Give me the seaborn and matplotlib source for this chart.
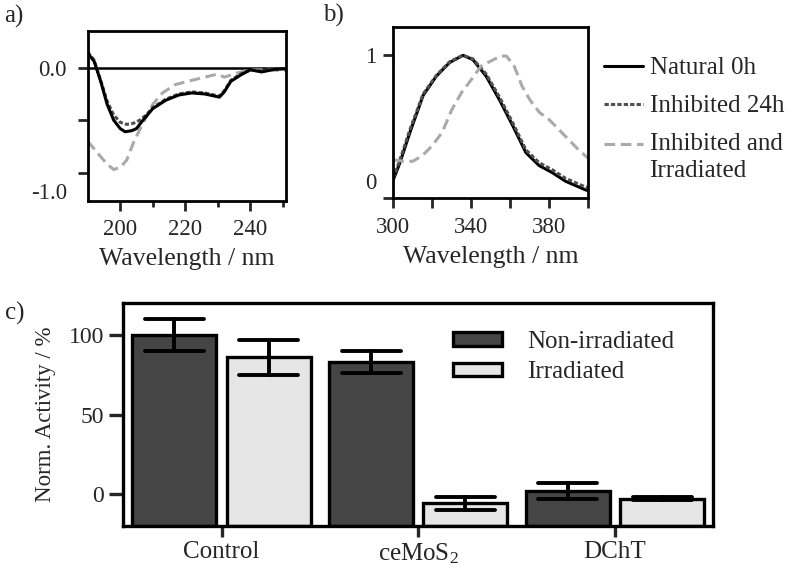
import numpy as np
import pandas as pd
import matplotlib
matplotlib.use("Agg")
import matplotlib.pyplot as plt
import matplotlib.transforms as mtransforms
from matplotlib.legend_handler import HandlerLine2D
import seaborn as sns

# ---------------- data ----------------
# panel a: CD spectra
a_wl_nat = [190, 192, 194, 196, 198, 200, 201.5, 203.5, 205, 207, 210, 214, 218, 222, 226, 229, 230.5, 232, 234, 237, 240, 243.5, 247.5, 251]
a_cd_nat = [0.14, 0.06, -0.13, -0.35, -0.50, -0.58, -0.61, -0.60, -0.58, -0.50, -0.39, -0.31, -0.26, -0.24, -0.25, -0.27, -0.28, -0.23, -0.13, -0.07, -0.02, -0.04, -0.015, -0.01]
a_wl_inh = [190, 192, 194, 196, 198, 200, 202, 204, 206, 208, 210, 214, 218, 222, 226, 229, 230.5, 232, 234, 237, 240, 243.5, 247.5, 251]
a_cd_inh = [0.15, 0.07, -0.12, -0.32, -0.45, -0.52, -0.54, -0.53, -0.50, -0.45, -0.38, -0.30, -0.25, -0.23, -0.24, -0.26, -0.27, -0.22, -0.12, -0.06, -0.02, -0.03, -0.01, -0.01]
a_wl_irr = [190, 193, 196, 198, 200, 202, 204, 206, 208, 210, 213, 217, 222, 226, 230, 232, 236, 240, 245, 251]
a_cd_irr = [-0.70, -0.81, -0.92, -0.97, -0.95, -0.88, -0.72, -0.59, -0.47, -0.35, -0.24, -0.16, -0.12, -0.09, -0.06, -0.09, -0.05, -0.02, -0.02, -0.03]

# panel b: fluorescence spectra (normalised)
b_wl_nat = [300, 303.4, 308.5, 315.3, 322.1, 328.9, 335.7, 340.8, 347.6, 354.4, 361.2, 368, 374.8, 381.6, 388.4, 398.6, 400]
b_fl_nat = [0.13, 0.25, 0.46, 0.72, 0.855, 0.95, 1.0, 0.97, 0.855, 0.69, 0.51, 0.32, 0.23, 0.18, 0.12, 0.06, 0.055]
b_wl_inh = [300, 303.4, 308.5, 315.3, 322.1, 328.9, 335.7, 340.8, 347.6, 354.4, 361.2, 368, 374.8, 381.6, 388.4, 398.6, 400]
b_fl_inh = [0.14, 0.27, 0.48, 0.73, 0.86, 0.955, 1.0, 0.975, 0.87, 0.71, 0.53, 0.34, 0.25, 0.20, 0.14, 0.08, 0.075]
b_wl_irr = [300, 305, 310, 315, 320, 325, 330, 335, 340, 345, 350, 355, 358, 362, 366, 370, 375, 380, 385, 390, 395, 400]
b_fl_irr = [0.27, 0.26, 0.26, 0.30, 0.37, 0.46, 0.62, 0.74, 0.83, 0.925, 0.96, 0.995, 0.995, 0.925, 0.785, 0.69, 0.60, 0.55, 0.48, 0.41, 0.34, 0.28]

series_names = ["Natural 0h", "Inhibited 24h", "Inhibited and\nIrradiated"]

# panel c: normalised activity
categories = ["Control", "ceMoS$_2$", "DChT"]
conditions = ["Non-irradiated", "Irradiated"]
act_nonirr = [100, 83, 2]
err_nonirr = [10, 7, 5]
act_irr = [86, -6, -3]
err_irr = [11, 4, 1]
bar_base = -20  # bars are drawn up from the bottom of the axis

# ---------------- style ----------------
sns.set_style("ticks")
plt.rcParams["font.family"] = ["Liberation Serif", "DejaVu Serif"]
plt.rcParams["mathtext.fontset"] = "custom"
plt.rcParams["mathtext.rm"] = "Liberation Serif"
plt.rcParams["mathtext.default"] = "regular"
plt.rcParams["axes.unicode_minus"] = False

fig = plt.figure(figsize=(8, 5.73), dpi=100)
ax_a = fig.add_axes([0.1096, 0.6492, 0.248, 0.2967])
ax_b = fig.add_axes([0.4916, 0.6536, 0.2438, 0.2998])
ax_c = fig.add_axes([0.1541, 0.0825, 0.7375, 0.3881])

line_colors = {series_names[0]: "black", series_names[1]: "#505050", series_names[2]: "#aaaaaa"}
line_dashes = {series_names[0]: "", series_names[1]: (1.4, 0.7), series_names[2]: (3.5, 1.8)}


def long_df(wls, vals, col):
    frames = []
    for name, w, v in zip(series_names, wls, vals):
        frames.append(pd.DataFrame({"wl": w, col: v, "series": name}))
    return pd.concat(frames, ignore_index=True)


df_a = long_df([a_wl_nat, a_wl_inh, a_wl_irr], [a_cd_nat, a_cd_inh, a_cd_irr], "cd")
df_b = long_df([b_wl_nat, b_wl_inh, b_wl_irr], [b_fl_nat, b_fl_inh, b_fl_irr], "fl")

# ---------- panel a ----------
ax_a.axhline(0, color="black", lw=1.8, zorder=1)
sns.lineplot(data=df_a, x="wl", y="cd", hue="series", style="series", hue_order=series_names[::-1],
             style_order=series_names[::-1], palette=line_colors, dashes=line_dashes,
             lw=2.2, ax=ax_a, legend=False, sort=False, estimator=None)
ax_a.set_xlim(190, 251)
ax_a.set_ylim(-1.27, 0.35)
ax_a.set_xticks([200, 220, 240])
ax_a.set_xticks([210, 230, 250], minor=True)
ax_a.set_yticks([0, -0.5, -1.0])
ax_a.set_yticklabels(["0.0", "", "-1.0"])
ax_a.set_xlabel("Wavelength / nm", fontsize=18.5, labelpad=6)
ax_a.set_ylabel("")
ax_a.tick_params(axis="x", which="major", direction="out", length=7, width=2, labelsize=16.5, pad=6)
ax_a.tick_params(axis="y", which="major", direction="out", length=7, width=2, labelsize=16.5, pad=8)
ax_a.tick_params(axis="x", which="minor", direction="out", length=4, width=2)

# ---------- panel b ----------
sns.lineplot(data=df_b, x="wl", y="fl", hue="series", style="series", hue_order=series_names,
             style_order=series_names, palette=line_colors, dashes=line_dashes,
             lw=2.2, ax=ax_b, sort=False, estimator=None)
ax_b.set_xlim(300, 400)
ax_b.set_ylim(0, 1.2)
ax_b.set_xticks([300, 340, 380])
ax_b.set_xticks([320, 360, 400], minor=True)
ax_b.set_yticks([0, 1])
ax_b.set_yticklabels(["0", "1"])
ax_b.set_xlabel("Wavelength / nm", fontsize=18.5, labelpad=6)
ax_b.set_ylabel("")
ax_b.tick_params(axis="x", which="major", direction="out", length=7, width=2, labelsize=16.5, pad=6)
ax_b.tick_params(axis="y", which="major", direction="out", length=7, width=2, labelsize=16.5, pad=5)
ax_b.tick_params(axis="x", which="minor", direction="out", length=7, width=2)


class RaisedLineHandler(HandlerLine2D):
    """Put the legend line level with the first line of a two-line label."""
    def create_artists(self, legend, orig_handle, xdescent, ydescent, width, height, fontsize, trans):
        return super().create_artists(legend, orig_handle, xdescent, ydescent - 20, width, height, fontsize, trans)


h, l = ax_b.get_legend_handles_labels()
leg_b = ax_b.legend(h, l, loc="upper left", bbox_to_anchor=(604 / 800, 1 - 57 / 573), bbox_transform=fig.transFigure,
                    frameon=False, fontsize=18, handlelength=1.55, handletextpad=0.27, labelspacing=0.62,
                    borderpad=0, borderaxespad=0, handler_map={h[2]: RaisedLineHandler()})
for t in leg_b.get_texts():
    t.set_linespacing(1.32)

for ax in (ax_a, ax_b):
    for s in ax.spines.values():
        s.set_linewidth(2)
        s.set_color("black")

# ---------- panel c ----------
rows = []
for cat, m1, e1, m2, e2 in zip(categories, act_nonirr, err_nonirr, act_irr, err_irr):
    rows += [(cat, conditions[0], m1 - e1), (cat, conditions[0], m1 + e1),
             (cat, conditions[1], m2 - e2), (cat, conditions[1], m2 + e2)]
df_c = pd.DataFrame(rows, columns=["group", "cond", "act"])

sns.barplot(data=df_c, x="group", y="act", hue="cond", order=categories, hue_order=conditions,
            palette={conditions[0]: "#454545", conditions[1]: "#e6e6e6"},
            estimator="mean", errorbar=lambda v: (v.min(), v.max()),
            width=0.96, gap=0.11, capsize=0.6,
            err_kws={"color": "black", "linewidth": 2.8},
            edgecolor="black", linewidth=2.4, saturation=1, ax=ax_c)
# bars start at the bottom of the axis, as in the original figure
for p in ax_c.patches:
    if p.get_width() <= 0:
        continue
    top = p.get_y() + p.get_height()
    p.set_y(bar_base)
    p.set_height(top - bar_base)
ax_c.set_xlim(-0.5, 2.5)
ax_c.set_ylim(-20, 120)
ax_c.set_yticks([0, 50, 100])
ax_c.set_xlabel("")
ax_c.set_ylabel("Norm. Activity / %", fontsize=16.5, labelpad=9)
ax_c.tick_params(axis="y", direction="out", length=10, width=2.4, labelsize=17, pad=4)
ax_c.tick_params(axis="x", direction="out", length=8, width=2.4, labelsize=18, pad=3)
for s in ax_c.spines.values():
    s.set_linewidth(2.4)
    s.set_color("black")
h, l = ax_c.get_legend_handles_labels()
ax_c.legend(h, l, loc="upper left", bbox_to_anchor=(453 / 800, 1 - 331 / 573), bbox_transform=fig.transFigure,
            frameon=False, fontsize=18, handlelength=1.95, handleheight=0.45, handletextpad=1.0,
            labelspacing=0.33, borderpad=0, borderaxespad=0)

# panel letters
fig.text(14 / 800, 1 - 16 / 573, "a)", fontsize=18, ha="center", va="center")
fig.text(333 / 800, 1 - 15 / 573, "b)", fontsize=18, ha="center", va="center")
fig.text(15 / 800, 1 - 313 / 573, "c)", fontsize=18, ha="center", va="center")

# shift some tick labels as in the reference
off_down = mtransforms.ScaledTranslation(0, -18 / 100, fig.dpi_scale_trans)
off_up = mtransforms.ScaledTranslation(0, 17 / 100, fig.dpi_scale_trans)
yt_a = ax_a.yaxis.get_major_ticks()
yt_a[2].label1.set_transform(yt_a[2].label1.get_transform() + off_down)
yt_b = ax_b.yaxis.get_major_ticks()
yt_b[0].label1.set_transform(yt_b[0].label1.get_transform() + off_up)

fig.savefig("out.png", dpi=100)
